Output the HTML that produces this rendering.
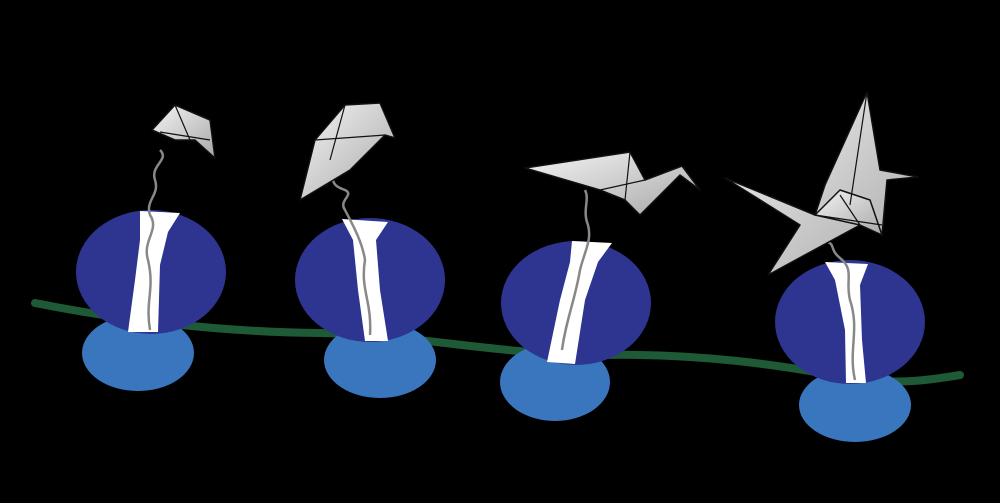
<!DOCTYPE html><html><head><style>body{margin:0;background:#000}svg{display:block}</style></head><body>
<svg width="1000" height="503" viewBox="0 0 1000 503">
<defs><linearGradient id="g" x1="0" y1="0" x2="1" y2="1"><stop offset="0" stop-color="#f4f4f4"/><stop offset="1" stop-color="#a8a8a8"/></linearGradient></defs>
<rect width="1000" height="503" fill="#000"/>
<path d="M35,303 C120,320 220,332 320,333 C420,335 500,355 600,355 C700,353 780,365 850,378 C900,385 930,380 960,375" fill="none" stroke="#1e5a36" stroke-width="8" stroke-linecap="round"/>
<g fill="#3a76bd">
<ellipse cx="138" cy="353" rx="56" ry="38"/><ellipse cx="380" cy="360" rx="56" ry="38"/><ellipse cx="555" cy="382" rx="55" ry="39"/><ellipse cx="855" cy="405" rx="56" ry="37"/></g>
<g fill="#2d3590">
<ellipse cx="151" cy="272" rx="75" ry="62"/><ellipse cx="370" cy="280" rx="75" ry="62"/><ellipse cx="576" cy="303" rx="75" ry="62"/><ellipse cx="850" cy="322" rx="75" ry="62"/></g>
<g fill="#fff">
<path d="M140,211 L180,213 L168,232 L160,265 L158,332 L128,332 L135,280 L140,240Z"/>
<path d="M342,219 L388,222 L376,240 L380,290 L388,341 L365,341 L358,290 L353,240Z"/>
<path d="M572,241 L612,243 L598,262 L585,300 L575,364 L547,362 L560,300 L570,262Z"/>
<path d="M825,262 L868,264 L860,285 L862,340 L866,383 L846,383 L845,330 L835,280Z"/>
</g>
<g fill="none" stroke="#888" stroke-width="2.5">
<path d="M150,330 C145,300 155,290 148,260 C142,240 160,230 150,215 C145,200 160,195 155,180 C150,165 170,160 160,150"/>
<path d="M370,335 C372,300 360,290 365,260 C362,240 350,220 345,210 C338,200 355,195 345,190 C330,185 335,180 330,175"/>
<path d="M562,350 C566,320 575,300 580,270 C585,250 592,240 588,225 C582,210 590,200 585,190"/>
<path d="M855,380 C848,350 860,330 850,300 C845,280 855,270 840,258 C830,250 835,245 828,242"/>
</g>
<g fill="url(#g)" stroke="#111" stroke-width="1.5" stroke-linejoin="round">
<path d="M152,130 L175,105 L210,120 L215,158 L195,140 L175,140Z"/>
<path d="M300,200 L315,140 L345,105 L380,103 L395,138 L385,135 L350,170Z"/>
<path d="M525,168 L630,152 L645,180 L682,166 L700,190 L680,175 L640,215 L625,200 L600,190Z"/>
<path d="M725,178 L815,215 L825,185 L867,92 L880,170 L918,177 L887,180 L882,235 L860,225 L768,275 L800,225Z"/>
<path d="M815,215 L840,190 L870,200 L882,235 L860,225Z"/>
</g>
<g fill="none" stroke="#111" stroke-width="1.2">
<path d="M175,105 L190,140 M160,132 L210,140"/>
<path d="M315,140 L385,135 M345,105 L330,160"/>
<path d="M630,152 L625,200 M600,190 L645,180"/>
<path d="M867,92 L850,205 M815,215 L882,225 M840,195 L860,225"/>
</g>
</svg></body></html>
